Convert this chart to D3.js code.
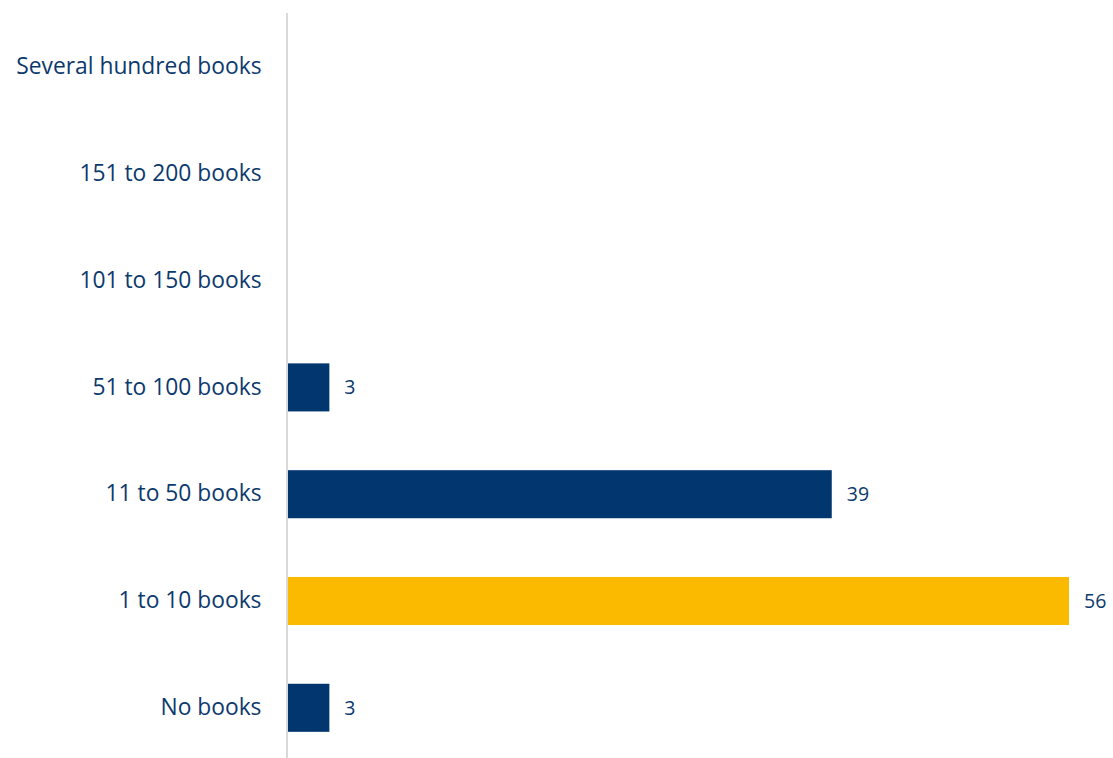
<!DOCTYPE html>
<html>
<head>
<meta charset="utf-8">
<script src="https://cdn.jsdelivr.net/npm/d3@7"></script>
<style>
  html, body { margin: 0; padding: 0; background: #fff; }
  svg { display: block; }
</style>
</head>
<body>
<svg id="chart" width="1113" height="758"></svg>
<script>
// Categories, top to bottom
const categories = [
  "Several hundred books",
  "151 to 200 books",
  "101 to 150 books",
  "51 to 100 books",
  "11 to 50 books",
  "1 to 10 books",
  "No books"
];
// Share of respondents (%), null where no bar is shown
const values = [null, null, null, 3, 39, 56, 3];
// Highlighted category
const highlight = "1 to 10 books";

const navy = "#02366f";
const gold = "#fbba00";
const textColor = "#0d3a6d";

const svg = d3.select("#chart");
const margin = { left: 287.5, top: 13.6, bottom: 761.2 };

const y = d3.scaleBand()
  .domain(categories)
  .range([margin.top, margin.bottom])
  .paddingInner(0.55)
  .paddingOuter(0.275);

const x = d3.scaleLinear()
  .domain([0, 56])
  .range([margin.left, 1069]);

const data = categories.map((c, i) => ({ cat: c, val: values[i] }));
const withBars = data.filter(d => d.val != null);

// Bars
svg.append("g")
  .selectAll("rect")
  .data(withBars)
  .join("rect")
  .attr("x", x(0))
  .attr("y", d => y(d.cat))
  .attr("width", d => x(d.val) - x(0))
  .attr("height", y.bandwidth())
  .attr("fill", d => d.cat === highlight ? gold : navy);

// Vertical category axis line
svg.append("line")
  .attr("x1", margin.left - 0.5)
  .attr("x2", margin.left - 0.5)
  .attr("y1", 13)
  .attr("y2", 758)
  .attr("stroke", "#d9d9d9")
  .attr("stroke-width", 2);

// Category labels
const axis = d3.axisLeft(y).tickSize(0).tickPadding(26);
const gAxis = svg.append("g")
  .attr("transform", `translate(${margin.left},0)`)
  .call(axis);
gAxis.select(".domain").remove();
gAxis.selectAll("text")
  .attr("fill", textColor)
  .attr("font-family", "'Open Sans', sans-serif")
  .attr("font-size", 22.8);

// Value labels
svg.append("g")
  .selectAll("text")
  .data(withBars)
  .join("text")
  .attr("x", d => x(d.val) + 15)
  .attr("y", d => y(d.cat) + y.bandwidth() / 2)
  .attr("dy", "0.36em")
  .attr("fill", textColor)
  .attr("font-family", "'Open Sans', sans-serif")
  .attr("font-size", 19.5)
  .text(d => d.val);
</script>
</body>
</html>
